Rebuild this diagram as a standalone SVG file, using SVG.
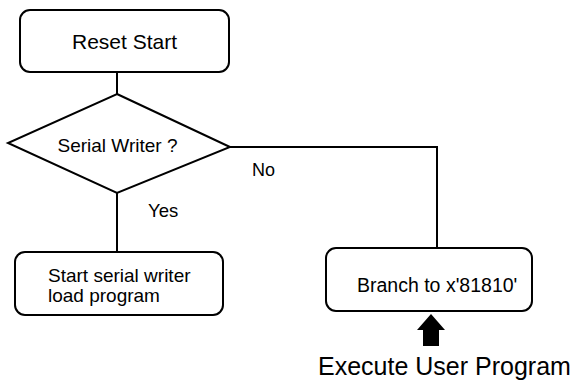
<svg xmlns="http://www.w3.org/2000/svg" width="575" height="381" viewBox="0 0 575 381">
<style>
.box{fill:#fff;stroke:#000;stroke-width:2}
.ln{fill:none;stroke:#000;stroke-width:2}
text{font-family:"Liberation Sans",Arial,sans-serif;fill:#000}
</style>
<rect width="575" height="381" fill="#fff"/>
<g id="connectors">
<path class="ln" d="M117,72 V94"/>
<path class="ln" d="M117,193 V252"/>
<path class="ln" d="M230,147 H437 V248"/>
<text x="252" y="176" font-size="18">No</text>
<text x="148" y="217" font-size="18.5">Yes</text>
</g>
<g id="reset-start">
<rect class="box" x="20" y="10" width="209" height="62" rx="10"/>
<text x="124.5" y="49" font-size="21" text-anchor="middle">Reset Start</text>
</g>
<g id="serial-writer">
<polygon class="box" points="117,94 230,147 117,193 8,143"/>
<text x="117.5" y="151.5" font-size="19" text-anchor="middle">Serial Writer ?</text>
</g>
<g id="start-serial">
<rect class="box" x="15" y="252" width="208" height="63" rx="10"/>
<text x="48" y="282" font-size="19">Start serial writer</text>
<text x="48" y="302" font-size="19">load program</text>
</g>
<g id="branch">
<rect class="box" x="326" y="248" width="206" height="63" rx="10"/>
<text x="357" y="291.5" font-size="19.5">Branch to x'81810'</text>
</g>
<g id="execute">
<polygon points="431,314 445,330 439,330 439,346 423,346 423,330 417,330" fill="#000"/>
<text x="318" y="375" font-size="25">Execute User Program</text>
</g>
</svg>
